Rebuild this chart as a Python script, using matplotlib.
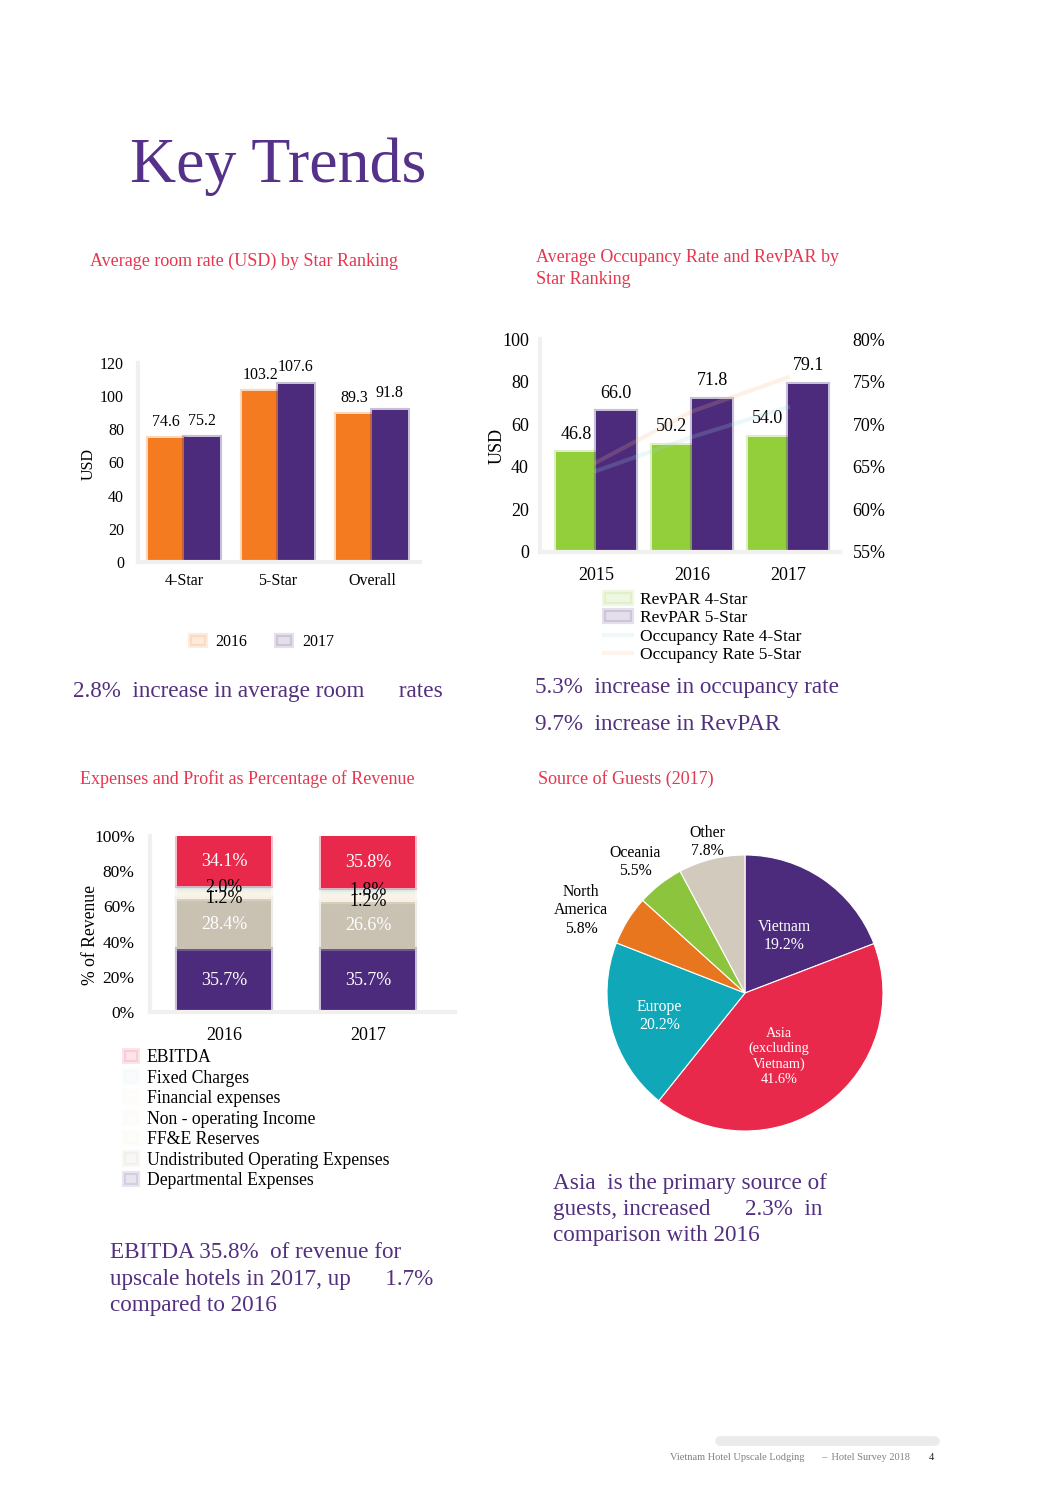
import matplotlib
matplotlib.use("Agg")
import matplotlib.pyplot as plt
import numpy as np
from matplotlib.colors import to_rgba
from matplotlib.lines import Line2D

W, H = 1062, 1504

# --- Average room rate (USD) by star ranking
stars = ["4-Star", "5-Star", "Overall"]
rate_2016 = [74.6, 103.2, 89.3]
rate_2017 = [75.2, 107.6, 91.8]

# --- Occupancy and RevPAR
years = ["2015", "2016", "2017"]
revpar_4 = [46.8, 50.2, 54.0]
revpar_5 = [66.0, 71.8, 79.1]
occ_4 = [64.5, 68.5, 72.0]   # faint lines, estimated
occ_5 = [65.5, 71.5, 75.5]

# --- Expenses and profit as % of revenue (bottom to top)
exp_years = ["2016", "2017"]
departmental = [35.7, 35.7]
undistributed = [28.4, 26.6]
ffe_reserves = [1.2, 1.2]
non_operating = [1.9, 2.2]
financial = [2.3, 2.7]
fixed_charges = [2.0, 1.8]
ebitda = [34.1, 35.8]

# --- Source of guests 2017
regions = ["Vietnam", "Asia\n(excluding\nVietnam)", "Europe", "North\nAmerica", "Oceania", "Other"]
shares = [19.2, 41.6, 20.2, 5.8, 5.5, 7.8]

PURPLE = "#4c2a7c"
ORANGE = "#f47b20"
GREEN = "#93cf3b"
RED = "#e8294b"
TITLE_RED = "#e5374f"
TEXT_PURPLE = "#52307f"

plt.rcParams["font.family"] = ["Liberation Serif", "DejaVu Serif"]

fig = plt.figure(figsize=(W / 100, H / 100), dpi=100)


def rect(l, t, r, b):
    return [l / W, 1 - b / H, (r - l) / W, (b - t) / H]


def ftext(x, y, s, **kw):
    kw.setdefault("va", "center")
    fig.text(x / W, 1 - y / H, s, **kw)


def clean(ax):
    for s in ("top", "right"):
        ax.spines[s].set_visible(False)
    for s in ("left", "bottom"):
        ax.spines[s].set_color("#f0f0f0")
        ax.spines[s].set_linewidth(3)
    ax.tick_params(length=0)


def soft_bar(ax, x, h, w, c, **kw):
    return ax.bar(x, h, w, color=c, edgecolor=to_rgba(c, 0.3), linewidth=3, **kw)


def fade_legend(leg, a=0.15):
    for hd in leg.legend_handles:
        hd.set_alpha(a)


# page header
ftext(130, 182, "Key Trends", fontsize=46, color="#55318a", va="baseline")

# ---------------- chart 1
ftext(90, 261, "Average room rate (USD) by Star Ranking", fontsize=13, color=TITLE_RED)
ax1 = fig.add_axes(rect(138, 363, 420, 562))
x = np.arange(len(stars))
w = 0.38
b1 = soft_bar(ax1, x - w / 2, rate_2016, w, ORANGE, label="2016")
b2 = soft_bar(ax1, x + w / 2, rate_2017, w, PURPLE, label="2017")
ax1.bar_label(b1, fmt="%.1f", padding=6, fontsize=11.5)
ax1.bar_label(b2, fmt="%.1f", padding=6, fontsize=11.5)
ax1.set_ylim(0, 120)
ax1.set_yticks(range(0, 121, 20))
ax1.set_xlim(-0.49, 2.51)
ax1.set_xticks(x, stars)
clean(ax1)
ax1.tick_params(axis="y", labelsize=11.5, pad=10)
ax1.tick_params(axis="x", labelsize=11.5, pad=8)
ax1.set_ylabel("USD", fontsize=11.5)
ax1.yaxis.set_label_coords((97 - 138) / 282, 0.49)
leg1 = ax1.legend(ncol=2, loc="center", bbox_to_anchor=(262 / W, 1 - 642 / H),
                  bbox_transform=fig.transFigure, frameon=False, fontsize=11.5,
                  handlelength=1.0, handletextpad=0.6, columnspacing=1.8)
fade_legend(leg1)

# ---------------- chart 2
ftext(536, 258, "Average Occupancy Rate and RevPAR by", fontsize=13, color=TITLE_RED)
ftext(536, 279, "Star Ranking", fontsize=13, color=TITLE_RED)
ax2 = fig.add_axes(rect(540, 339, 840, 552))
x = np.arange(len(years))
w = 0.42
c1 = soft_bar(ax2, x - w / 2, revpar_4, w, GREEN, label="RevPAR 4-Star")
c2 = soft_bar(ax2, x + w / 2, revpar_5, w, PURPLE, label="RevPAR 5-Star")
ax2.bar_label(c1, fmt="%.1f", padding=7, fontsize=13)
ax2.bar_label(c2, fmt="%.1f", padding=7, fontsize=13)
ax2.set_ylim(0, 100)
ax2.set_yticks(range(0, 101, 20))
ax2.set_xlim(-0.583, 2.542)
ax2.set_xticks(x, years)
clean(ax2)
ax2.tick_params(axis="y", labelsize=13, pad=8)
ax2.tick_params(axis="x", labelsize=13, pad=11)
ax2.set_ylabel("USD", fontsize=13)
ax2.yaxis.set_label_coords((506 - 540) / 300, 0.5)
ax2b = ax2.twinx()
l1, = ax2b.plot(x, occ_4, color="#9fd9e3", lw=3, alpha=0.2, label="Occupancy Rate 4-Star")
l2, = ax2b.plot(x, occ_5, color="#f6b98a", lw=3, alpha=0.2, label="Occupancy Rate 5-Star")
ax2b.set_ylim(55, 80)
ax2b.set_yticks(range(55, 81, 5))
ax2b.set_yticklabels([f"{v}%" for v in range(55, 81, 5)])
for s in ax2b.spines.values():
    s.set_visible(False)
ax2b.tick_params(length=0, labelsize=13, pad=9)
leg2 = ax2.legend(handles=[c1, c2, l1, l2], loc="upper left",
                  bbox_to_anchor=(604 / W, 1 - 592 / H), bbox_transform=fig.transFigure,
                  frameon=False, fontsize=12.5, handlelength=1.6, handletextpad=0.5,
                  labelspacing=0.12, borderpad=0, borderaxespad=0)
fade_legend(leg2)

ftext(73, 692, "2.8%  increase in average room      rates", fontsize=16.7, color=TEXT_PURPLE)
ftext(535, 688, "5.3%  increase in occupancy rate", fontsize=16.7, color=TEXT_PURPLE)
ftext(535, 725, "9.7%  increase in RevPAR", fontsize=16.7, color=TEXT_PURPLE)

# ---------------- chart 3
ftext(80, 779, "Expenses and Profit as Percentage of Revenue", fontsize=13, color=TITLE_RED)
ax3 = fig.add_axes(rect(150, 836, 455, 1012))
x = np.arange(len(exp_years))
w = 0.65
stack = [
    ("Departmental Expenses", departmental, PURPLE, "white"),
    ("Undistributed Operating Expenses", undistributed, "#c9c1b2", "white"),
    ("FF&E Reserves", ffe_reserves, "#f6f1de", "black"),
    ("Non - operating Income", non_operating, "#faf1ea", None),
    ("Financial expenses", financial, "#f8f5e6", None),
    ("Fixed Charges", fixed_charges, "#d8eeef", "black"),
    ("EBITDA", ebitda, RED, "white"),
]
bottom = np.zeros(len(exp_years))
bars3 = []
for name, vals, col, tcol in stack:
    vals = np.array(vals)
    bc = soft_bar(ax3, x, vals, w, col, bottom=bottom, label=name)
    bars3.append(bc)
    if tcol:
        for xi, b0, v in zip(x, bottom, vals):
            yc = (b0 + min(b0 + v, 100)) / 2
            ax3.text(xi, yc, f"{v:.1f}%", ha="center", va="center", fontsize=13, color=tcol)
    bottom = bottom + vals
ax3.set_ylim(0, 100)
ax3.set_yticks(range(0, 101, 20))
ax3.set_yticklabels([f"{v}%" for v in range(0, 101, 20)])
ax3.set_xlim(-0.514, 1.604)
ax3.set_xticks(x, exp_years)
clean(ax3)
ax3.tick_params(axis="y", labelsize=12.5, pad=11)
ax3.tick_params(axis="x", labelsize=13, pad=11)
ax3.set_ylabel("% of Revenue", fontsize=12.7)
ax3.yaxis.set_label_coords((99 - 150) / 305, 0.44)
leg3 = ax3.legend(handles=bars3[::-1], loc="upper left",
                  bbox_to_anchor=(124 / W, 1 - 1049 / H), bbox_transform=fig.transFigure,
                  frameon=False, fontsize=12.7, handlelength=0.8, handletextpad=0.5,
                  labelspacing=0.2, borderpad=0, borderaxespad=0)
fade_legend(leg3, 0.12)

ftext(110, 1253, "EBITDA 35.8%  of revenue for", fontsize=16.7, color=TEXT_PURPLE)
ftext(110, 1279, "upscale hotels in 2017, up      1.7%", fontsize=16.7, color=TEXT_PURPLE)
ftext(110, 1306, "compared to 2016", fontsize=16.7, color=TEXT_PURPLE)

# ---------------- chart 4
ftext(538, 779, "Source of Guests (2017)", fontsize=13, color=TITLE_RED)
ax4 = fig.add_axes(rect(607, 855, 883, 1131))
pie_colors = [PURPLE, RED, "#10a8b8", "#e8761f", "#8dc43e", "#d2cbbd"]
wedges, _ = ax4.pie(shares, colors=pie_colors, startangle=90, counterclock=False,
                    radius=1, wedgeprops=dict(edgecolor="white", linewidth=0.8))
ax4.set_xlim(-1, 1)
ax4.set_ylim(-1, 1)
ax4.set_aspect("equal")
label_r = [0.5, 0.52, 0.64, 1.33, 1.24, 1.13]
label_turn = [0, -8, 0, 5, 2, 0]
label_c = ["white", "white", "white", "black", "black", "black"]
label_fs = [11.3, 10.3, 11.3, 11.3, 11.3, 11.3]
for wd, name, v, r, t, c, fs in zip(wedges, regions, shares, label_r, label_turn, label_c, label_fs):
    ang = np.deg2rad((wd.theta1 + wd.theta2) / 2 + t)
    ax4.text(r * np.cos(ang), r * np.sin(ang), f"{name}\n{v:.1f}%", ha="center", va="center",
             fontsize=fs, color=c, linespacing=1.2)

ftext(553, 1183, "Asia  is the primary source of", fontsize=16.7, color=TEXT_PURPLE)
ftext(553, 1210, "guests, increased      2.3%  in", fontsize=16.7, color=TEXT_PURPLE)
ftext(553, 1236, "comparison with 2016", fontsize=16.7, color=TEXT_PURPLE)

# footer
fig.add_artist(Line2D([720 / W, 935 / W], [1 - 1441 / H, 1 - 1441 / H],
                      transform=fig.transFigure, color="#ebebeb", lw=7, solid_capstyle="round"))
ftext(670, 1457, "Vietnam Hotel Upscale Lodging", fontsize=7.5, color="#808080")
ftext(821, 1457, "–  Hotel Survey 2018", fontsize=7.5, color="#808080")
ftext(929, 1457, "4", fontsize=7.5, color="#222222")

fig.savefig("out.png", dpi=100)
